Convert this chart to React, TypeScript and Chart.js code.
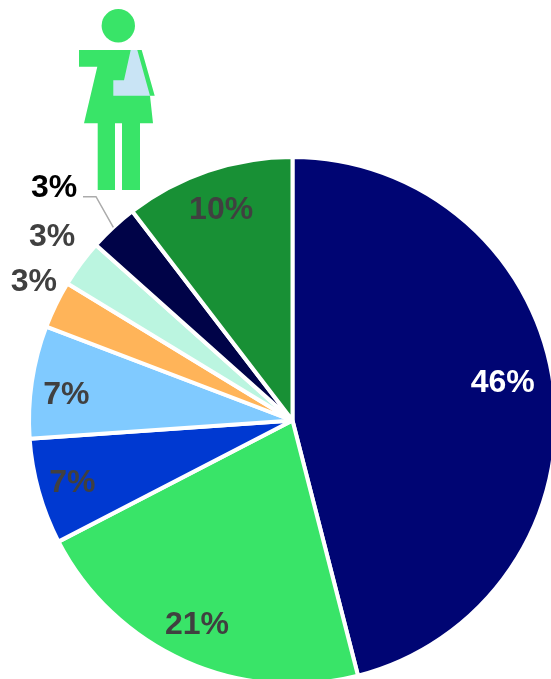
import React, { useEffect, useRef } from "react";
import { Chart, registerables } from "chart.js";

Chart.register(...registerables);

// Data
const categories = ["A", "B", "C", "D", "E", "F", "G", "H"];
const values = [46, 21.4, 6.5, 6.9, 2.9, 2.9, 3, 10.4];
const valueLabels = ["46%", "21%", "7%", "7%", "3%", "3%", "3%", "10%"];

// Style
const sliceColors = ["#000573", "#39E468", "#0039D1", "#80CAFF", "#FFB459", "#BBF5E0", "#000348", "#189035"];
const labelColors = ["#FFFFFF", "#404040", "#404040", "#404040", "#404040", "#404040", "#000000", "#404040"];
const labelOffsets: [number, number][] = [
  [79.5, -22.6], [-41.7, 82.9], [-93.3, 24.8], [-95.9, -7.8],
  [-140.3, -82.6], [-134.6, -107.3], [-148.8, -137.3], [-29.1, -87.4],
];
const LEADER_INDEX = 6;
const GREEN = "#39E468";
const SLING = "#C9E4F5";

const poly = (ctx: CanvasRenderingContext2D, pts: number[][], fill: string) => {
  ctx.beginPath();
  pts.forEach(([x, y], i) => (i ? ctx.lineTo(x, y) : ctx.moveTo(x, y)));
  ctx.closePath();
  ctx.fillStyle = fill;
  ctx.fill();
};

const overlayPlugin = {
  id: "overlay",
  afterDatasetsDraw(chart: any) {
    const { ctx } = chart;
    const arcs = chart.getDatasetMeta(0).data;
    ctx.save();

    // Leader line for the small slice
    const la = arcs[LEADER_INDEX];
    const mid = (la.startAngle + la.endAngle) / 2;
    const ex = la.x + Math.cos(mid) * la.outerRadius;
    const ey = la.y + Math.sin(mid) * la.outerRadius;
    ctx.beginPath();
    ctx.moveTo(83, 196.7);
    ctx.lineTo(96, 196.7);
    ctx.lineTo(ex, ey);
    ctx.strokeStyle = "#ABABAB";
    ctx.lineWidth = 1.5;
    ctx.stroke();

    // Value labels
    ctx.font = 'bold 32px "Liberation Sans", Arial, sans-serif';
    ctx.textAlign = "center";
    ctx.textBaseline = "middle";
    arcs.forEach((arc: any, i: number) => {
      const p = arc.tooltipPosition();
      ctx.fillStyle = labelColors[i];
      ctx.fillText(valueLabels[i], p.x + labelOffsets[i][0], p.y + labelOffsets[i][1] + 2);
    });

    // Figure icon
    ctx.fillStyle = GREEN;
    ctx.beginPath();
    ctx.arc(118.3, 25.7, 16.7, 0, Math.PI * 2);
    ctx.fill();
    poly(ctx, [[79, 50], [141.7, 50], [154.7, 95.7], [150, 95.7], [153, 123.3], [84, 123.3], [97.3, 66.7], [79, 66.7]], GREEN);
    poly(ctx, [[97.7, 123], [115, 123], [115, 190], [97.7, 190]], GREEN);
    poly(ctx, [[122, 123], [140, 123], [140, 190], [122, 190]], GREEN);
    poly(ctx, [[130.7, 50], [137.3, 50], [150, 95.7], [113.3, 95.7], [113.3, 80.3], [124, 80.3]], SLING);

    ctx.restore();
  },
};

export default function App() {
  const ref = useRef<HTMLCanvasElement>(null);
  useEffect(() => {
    document.body.style.margin = "0";
    const chart = new Chart(ref.current!, {
      type: "pie",
      data: {
        labels: categories,
        datasets: [{ data: values, backgroundColor: sliceColors, borderColor: "#FFFFFF", borderWidth: 4 }],
      },
      options: {
        responsive: false,
        animation: false,
        layout: { padding: { left: 27, top: 155, right: 42, bottom: 14 } },
        plugins: { legend: { display: false }, tooltip: { enabled: false }, title: { display: false } },
      },
      plugins: [overlayPlugin],
    });
    return () => chart.destroy();
  }, []);
  return (
    <div style={{ position: "absolute", left: 0, top: 0, width: 551, height: 679, overflow: "hidden" }}>
      <canvas ref={ref} width={600} height={700} style={{ display: "block" }} />
    </div>
  );
}
